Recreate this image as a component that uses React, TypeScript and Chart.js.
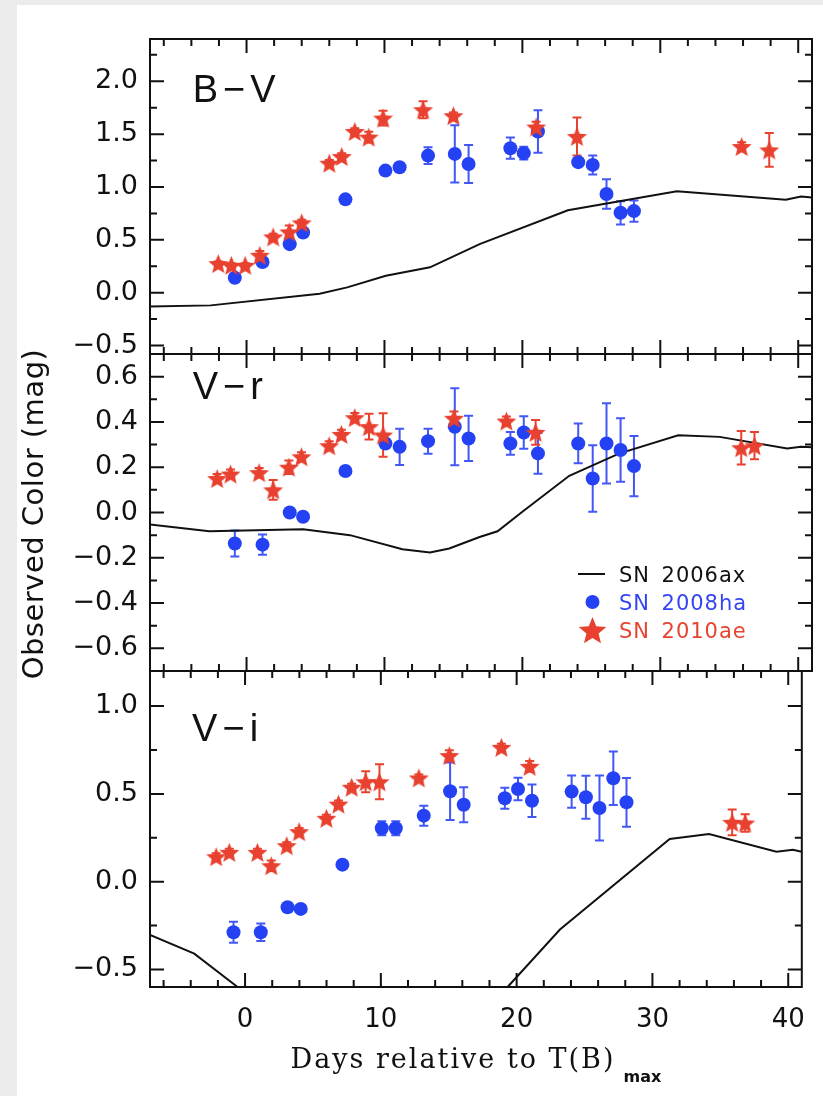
import React, { useEffect, useRef } from 'react';
import { Chart, registerables } from 'chart.js';

Chart.register(...registerables);

// ---------------- shared x axis ----------------
const X_MIN = -7;
const X_MAX = 41;
const X_TICKS = [0, 10, 20, 30, 40];
const X_MINOR = 2;

// ---------------- SN 2008ha epochs ----------------
const HA_DAYS = [-0.85, 1.16, 3.13, 4.1, 7.17, 10.07, 11.1, 13.16, 15.1, 16.1, 19.13, 20.1, 21.13, 24.05, 25.1, 26.1, 27.12, 28.09];

// ---------------- B−V ----------------
const BV_AX_DAYS = [-7, -2.6, 5.3, 7.3, 10.1, 13.3, 16.9, 23.3, 31.2, 39.1, 40.2, 41];
const BV_AX = [-0.13, -0.12, -0.01, 0.05, 0.16, 0.24, 0.46, 0.78, 0.96, 0.88, 0.91, 0.9];
const BV_HA = [0.142, 0.29, 0.459, 0.57, 0.883, 1.155, 1.187, 1.297, 1.313, 1.218, 1.367, 1.32, 1.525, 1.235, 1.209, 0.934, 0.756, 0.772];
const BV_HA_ERR = [0.02, 0.03, 0.03, 0.03, 0.02, 0.03, 0.03, 0.08, 0.27, 0.18, 0.1, 0.06, 0.2, 0.04, 0.09, 0.14, 0.11, 0.1];
const BV_AE_DAYS = [-2.05, -1.1, -0.1, 0.96, 1.93, 3.1, 4.0, 6.0, 6.9, 7.85, 8.86, 9.9, 12.8, 15.0, 21.0, 23.96, 35.9, 37.9];
const BV_AE = [0.275, 0.259, 0.259, 0.354, 0.528, 0.575, 0.661, 1.225, 1.288, 1.525, 1.472, 1.652, 1.731, 1.674, 1.567, 1.478, 1.383, 1.351];
const BV_AE_ERR = [0.02, 0.02, 0.02, 0.04, 0.03, 0.06, 0.03, 0.03, 0.03, 0.03, 0.05, 0.07, 0.08, 0.03, 0.05, 0.18, 0.04, 0.16];

// ---------------- V−r ----------------
const VR_AX_DAYS = [-7, -2.7, 4.1, 7.5, 11.3, 13.3, 14.7, 16.9, 18.2, 20.0, 23.4, 27.0, 31.3, 34.3, 39.2, 40.2, 41];
const VR_AX = [-0.053, -0.083, -0.074, -0.1, -0.162, -0.177, -0.159, -0.108, -0.083, 0.003, 0.162, 0.26, 0.341, 0.334, 0.283, 0.29, 0.288];
const VR_HA = [-0.137, -0.142, 0.0, -0.019, 0.183, 0.305, 0.29, 0.315, 0.379, 0.327, 0.305, 0.353, 0.261, 0.305, 0.15, 0.305, 0.276, 0.205];
const VR_HA_ERR = [0.057, 0.045, 0.01, 0.01, 0.01, 0.02, 0.08, 0.055, 0.17, 0.1, 0.05, 0.072, 0.09, 0.088, 0.147, 0.177, 0.14, 0.133];
const VR_AE_DAYS = [-2.13, -1.16, 0.91, 1.93, 3.07, 3.98, 5.99, 6.88, 7.85, 8.88, 9.9, 15.04, 18.84, 20.96, 35.87, 36.83];
const VR_AE = [0.15, 0.17, 0.176, 0.1, 0.2, 0.246, 0.295, 0.345, 0.419, 0.379, 0.342, 0.416, 0.404, 0.354, 0.286, 0.295];
const VR_AE_ERR = [0.02, 0.02, 0.02, 0.044, 0.03, 0.02, 0.02, 0.02, 0.02, 0.057, 0.096, 0.03, 0.02, 0.055, 0.074, 0.06];

// ---------------- V−i ----------------
const VI_AX_DAYS = [-7, -3.74, -0.72, 1, 18, 19.45, 23.19, 31.27, 34.17, 39.13, 40.34, 41];
const VI_AX = [-0.303, -0.41, -0.59, -0.69, -0.71, -0.59, -0.273, 0.243, 0.271, 0.17, 0.182, 0.17];
const VI_HA = [-0.288, -0.288, -0.146, -0.155, 0.097, 0.304, 0.304, 0.376, 0.515, 0.438, 0.475, 0.528, 0.461, 0.513, 0.481, 0.42, 0.589, 0.452];
const VI_HA_ERR = [0.06, 0.05, 0.01, 0.01, 0.01, 0.04, 0.04, 0.057, 0.164, 0.1, 0.06, 0.064, 0.092, 0.092, 0.123, 0.185, 0.152, 0.139];
const VI_AE_DAYS = [-2.13, -1.16, 0.91, 1.93, 3.07, 3.98, 5.99, 6.88, 7.85, 8.88, 9.9, 12.8, 15.04, 18.88, 20.96, 35.87, 36.83];
const VI_AE = [0.142, 0.167, 0.167, 0.091, 0.205, 0.285, 0.361, 0.442, 0.538, 0.569, 0.569, 0.591, 0.718, 0.765, 0.657, 0.338, 0.334];
const VI_AE_ERR = [0.02, 0.02, 0.02, 0.03, 0.02, 0.02, 0.02, 0.02, 0.02, 0.06, 0.1, 0.02, 0.03, 0.02, 0.03, 0.073, 0.05];

// ---------------- axes per panel ----------------
const PANEL_NAMES = ['B\u2212V', 'V\u2212r', 'V\u2212i'];
const Y_MIN = [-0.58, -0.7, -0.6];
const Y_MAX = [2.4, 0.7, 1.2];
const Y_TICKS = [
  [-0.5, 0.0, 0.5, 1.0, 1.5, 2.0],
  [-0.6, -0.4, -0.2, 0.0, 0.2, 0.4, 0.6],
  [-0.5, 0.0, 0.5, 1.0],
];
const Y_MINOR = [0.25, 0.1, 0.25];
const SERIES_LABELS = ['SN 2006ax', 'SN 2008ha', 'SN 2010ae'];
const Y_TITLE = 'Observed Color (mag)';
const X_TITLE = 'Days relative to T(B)';
const X_TITLE_SUB = 'max';

const PANEL_DATA = [
  { axDays: BV_AX_DAYS, ax: BV_AX, ha: BV_HA, haErr: BV_HA_ERR, aeDays: BV_AE_DAYS, ae: BV_AE, aeErr: BV_AE_ERR },
  { axDays: VR_AX_DAYS, ax: VR_AX, ha: VR_HA, haErr: VR_HA_ERR, aeDays: VR_AE_DAYS, ae: VR_AE, aeErr: VR_AE_ERR },
  { axDays: VI_AX_DAYS, ax: VI_AX, ha: VI_HA, haErr: VI_HA_ERR, aeDays: VI_AE_DAYS, ae: VI_AE, aeErr: VI_AE_ERR },
];

// ---------------- layout / style ----------------
const W = 823;
const H = 1096;
const PLOT_LEFT = 150;
const PLOT_RIGHT = 812;
const PANEL_EDGES = [39, 354, 671, 987];
const X_AXIS_H = 60;
const LABEL_DAY = -3.9;
const LABEL_VAL = [1.8, 0.5, 0.8];

const INK = '#111111';
const BLUE = '#2442f4';
const BLUE_ERR = '#4257f6';
const RED = '#e8412f';
const SANS = '"DejaVu Sans", Verdana, sans-serif';

function starPath(ctx: CanvasRenderingContext2D, cx: number, cy: number, R: number, r: number) {
  ctx.beginPath();
  for (let k = 0; k < 10; k++) {
    const rad = k % 2 === 0 ? R : r;
    const a = -Math.PI / 2 + (k * Math.PI) / 5;
    const px = cx + rad * Math.cos(a);
    const py = cy + rad * Math.sin(a);
    if (k === 0) ctx.moveTo(px, py);
    else ctx.lineTo(px, py);
  }
  ctx.closePath();
}

function makeStarImage(R: number, color: string) {
  const s = Math.ceil(R * 2 + 4);
  const c = document.createElement('canvas');
  c.width = s;
  c.height = s;
  const ctx = c.getContext('2d')!;
  starPath(ctx, s / 2, s / 2 + R * 0.1, R, R * 0.44);
  ctx.fillStyle = color;
  ctx.fill();
  return c;
}

const fmtY = (v: number) => {
  const a = Math.abs(v) < 1e-9 ? 0 : v;
  return (a < 0 ? '\u2212' : '') + Math.abs(a).toFixed(1);
};

function makePlugin(idx: number) {
  return {
    id: 'deco' + idx,
    beforeDatasetsDraw(chart: any) {
      const ctx: CanvasRenderingContext2D = chart.ctx;
      const xs = chart.scales.x;
      const ys = chart.scales.y;
      chart.data.datasets.forEach((ds: any) => {
        if (!ds.errors) return;
        ctx.save();
        ctx.strokeStyle = ds.errColor;
        ctx.lineWidth = 2;
        ds.data.forEach((p: any, i: number) => {
          const e = ds.errors[i];
          const x = xs.getPixelForValue(p.x);
          const y1 = ys.getPixelForValue(p.y - e);
          const y2 = ys.getPixelForValue(p.y + e);
          ctx.beginPath();
          ctx.moveTo(x, y1);
          ctx.lineTo(x, y2);
          ctx.moveTo(x - 4.5, y1);
          ctx.lineTo(x + 4.5, y1);
          ctx.moveTo(x - 4.5, y2);
          ctx.lineTo(x + 4.5, y2);
          ctx.stroke();
        });
        ctx.restore();
      });
    },
    afterDraw(chart: any) {
      const ctx: any = chart.ctx;
      const ca = chart.chartArea;
      const xs = chart.scales.x;
      const ys = chart.scales.y;
      ctx.save();
      ctx.strokeStyle = INK;
      ctx.lineWidth = 2;
      ctx.strokeRect(ca.left, ca.top, ca.right - ca.left, ca.bottom - ca.top);
      const MAJ = 14;
      const MIN = 7;
      ctx.beginPath();
      const yMajor = Y_TICKS[idx];
      const ym = Y_MINOR[idx];
      for (let k = Math.ceil(Y_MIN[idx] / ym - 1e-9); k * ym <= Y_MAX[idx] + 1e-9; k++) {
        const v = k * ym;
        const isMaj = yMajor.some((m: number) => Math.abs(m - v) < 1e-6);
        const len = isMaj ? MAJ : MIN;
        const y = ys.getPixelForValue(v);
        ctx.moveTo(ca.left, y);
        ctx.lineTo(ca.left + len, y);
        ctx.moveTo(ca.right, y);
        ctx.lineTo(ca.right - len, y);
      }
      for (let k = Math.ceil(X_MIN / X_MINOR); k * X_MINOR <= X_MAX; k++) {
        const v = k * X_MINOR;
        const isMaj = X_TICKS.some((m) => Math.abs(m - v) < 1e-6);
        const len = isMaj ? MAJ : MIN;
        const x = xs.getPixelForValue(v);
        ctx.moveTo(x, ca.bottom);
        ctx.lineTo(x, ca.bottom - len);
        ctx.moveTo(x, ca.top);
        ctx.lineTo(x, ca.top + len);
      }
      ctx.stroke();

      // panel name
      ctx.fillStyle = INK;
      ctx.font = '38px "Liberation Sans", Arial, sans-serif';
      ctx.textAlign = 'left';
      ctx.textBaseline = 'alphabetic';
      ctx.letterSpacing = '5px';
      ctx.fillText(PANEL_NAMES[idx], xs.getPixelForValue(LABEL_DAY), ys.getPixelForValue(LABEL_VAL[idx]));
      ctx.letterSpacing = '0px';

      if (idx === 1) {
        const lx = ca.right - 234;
        const rows = [ca.bottom - 97, ca.bottom - 69, ca.bottom - 41];
        ctx.beginPath();
        ctx.moveTo(lx, rows[0]);
        ctx.lineTo(lx + 27, rows[0]);
        ctx.stroke();
        ctx.fillStyle = BLUE;
        ctx.beginPath();
        ctx.arc(lx + 14.5, rows[1], 7, 0, Math.PI * 2);
        ctx.fill();
        ctx.fillStyle = RED;
        starPath(ctx, lx + 14.5, rows[2] + 1.5, 14.5, 14.5 * 0.44);
        ctx.fill();
        ctx.font = '21px ' + SANS;
        ctx.letterSpacing = '1px';
        const cols = [INK, '#3446f2', '#e6442f'];
        SERIES_LABELS.forEach((s, i) => {
          ctx.fillStyle = cols[i];
          ctx.fillText(s.replace(' ', '\u2002'), lx + 41, rows[i] + 8);
        });
        ctx.letterSpacing = '0px';

        ctx.save();
        ctx.translate(43, (PANEL_EDGES[0] + PANEL_EDGES[3]) / 2 + 1);
        ctx.rotate(-Math.PI / 2);
        ctx.fillStyle = INK;
        ctx.font = '29px ' + SANS;
        ctx.textAlign = 'center';
        ctx.letterSpacing = '0.5px';
        ctx.fillText(Y_TITLE, 0, 0);
        ctx.restore();
      }

      if (idx === 2) {
        ctx.fillStyle = INK;
        ctx.textAlign = 'left';
        const mainFont = '27px "DejaVu Serif", serif';
        const subFont = 'bold 16px ' + SANS;
        ctx.font = mainFont;
        ctx.letterSpacing = '2px';
        const wMain = ctx.measureText(X_TITLE).width;
        ctx.letterSpacing = '0px';
        ctx.font = subFont;
        const wSub = ctx.measureText(X_TITLE_SUB).width;
        const gap = 8;
        const start = (ca.left + ca.right) / 2 - (wMain + gap + wSub) / 2;
        ctx.font = mainFont;
        ctx.letterSpacing = '2px';
        ctx.fillText(X_TITLE, start, 1068);
        ctx.letterSpacing = '0px';
        ctx.font = subFont;
        ctx.fillText(X_TITLE_SUB, start + wMain + gap, 1082);
      }
      ctx.restore();
    },
  };
}

function buildConfig(idx: number): any {
  const d = PANEL_DATA[idx];
  const pts = (xs: number[], ys: number[]) => xs.map((x, i) => ({ x, y: ys[i] }));
  const star = makeStarImage(10.5, RED);
  const isBottom = idx === 2;
  return {
    type: 'scatter',
    data: {
      datasets: [
        {
          type: 'line',
          label: SERIES_LABELS[0],
          data: pts(d.axDays, d.ax),
          borderColor: INK,
          borderWidth: 2,
          pointRadius: 0,
          tension: 0,
          fill: false,
          order: 3,
        },
        {
          type: 'scatter',
          label: SERIES_LABELS[1],
          data: pts(HA_DAYS, d.ha),
          pointStyle: 'circle',
          pointRadius: 7,
          backgroundColor: BLUE,
          borderColor: BLUE,
          borderWidth: 0,
          errors: d.haErr,
          errColor: BLUE_ERR,
          order: 2,
        },
        {
          type: 'scatter',
          label: SERIES_LABELS[2],
          data: pts(d.aeDays, d.ae),
          pointStyle: star,
          pointRadius: 11,
          backgroundColor: RED,
          borderColor: RED,
          errors: d.aeErr,
          errColor: RED,
          order: 1,
        },
      ],
    },
    options: {
      responsive: false,
      animation: false,
      devicePixelRatio: 1,
      events: [],
      layout: {
        autoPadding: false,
        padding: {
          left: 0,
          right: W - PLOT_RIGHT,
          top: PANEL_EDGES[idx],
          bottom: isBottom ? H - PANEL_EDGES[3] - X_AXIS_H : H - PANEL_EDGES[idx + 1],
        },
      },
      plugins: { legend: { display: false }, tooltip: { enabled: false }, title: { display: false } },
      scales: {
        x: {
          type: 'linear',
          min: X_MIN,
          max: X_MAX,
          display: isBottom,
          grid: { display: false, drawTicks: false },
          border: { display: false },
          afterBuildTicks: (s: any) => {
            s.ticks = X_TICKS.map((v) => ({ value: v }));
          },
          ticks: {
            padding: 18,
            maxRotation: 0,
            autoSkip: false,
            color: INK,
            font: { family: SANS, size: 26 },
            callback: (v: any) => String(v),
          },
          afterFit: (s: any) => {
            if (isBottom) s.height = X_AXIS_H;
          },
        },
        y: {
          type: 'linear',
          min: Y_MIN[idx],
          max: Y_MAX[idx],
          grid: { display: false, drawTicks: false },
          border: { display: false },
          afterBuildTicks: (s: any) => {
            s.ticks = Y_TICKS[idx].map((v) => ({ value: v }));
          },
          ticks: {
            padding: 12,
            autoSkip: false,
            color: INK,
            font: { family: SANS, size: 27 },
            callback: (v: any) => fmtY(Number(v)),
          },
          afterFit: (s: any) => {
            s.width = PLOT_LEFT;
          },
        },
      },
    },
    plugins: [makePlugin(idx)],
  };
}

function Panel({ idx }: { idx: number }) {
  const ref = useRef<HTMLCanvasElement | null>(null);
  useEffect(() => {
    if (!ref.current) return;
    const chart = new Chart(ref.current, buildConfig(idx));
    return () => chart.destroy();
  }, [idx]);
  return (
    <canvas
      ref={ref}
      width={W}
      height={H}
      style={{ position: 'absolute', left: 0, top: 0, width: W, height: H }}
    />
  );
}

export default function App() {
  return (
    <div
      style={{
        position: 'absolute',
        left: 0,
        top: 0,
        width: W,
        height: H,
        background: '#ebebeb',
        overflow: 'hidden',
      }}
    >
      <div style={{ position: 'absolute', left: 17, top: 5, right: 0, bottom: 0, background: '#ffffff' }} />
      {[0, 1, 2].map((i) => (
        <Panel key={i} idx={i} />
      ))}
    </div>
  );
}
